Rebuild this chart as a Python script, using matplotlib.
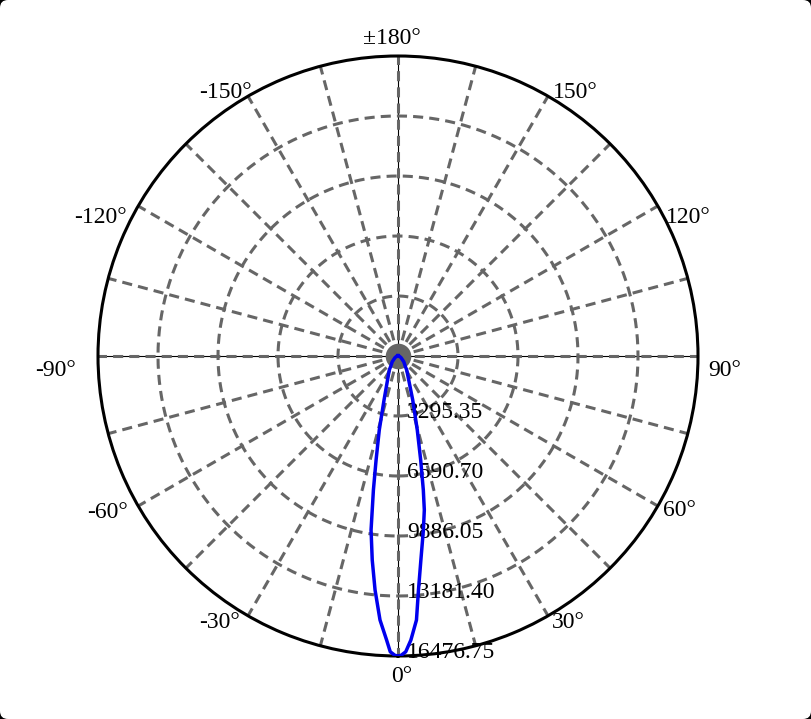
import numpy as np
import matplotlib
matplotlib.use("Agg")
import matplotlib.pyplot as plt
from matplotlib.patches import FancyBboxPatch
from matplotlib.transforms import IdentityTransform, offset_copy

plt.rcParams['font.family'] = ['Liberation Serif', 'DejaVu Serif']

# --------------------------
# Data
# --------------------------
angles_deg = [-180, -120, -90, -60, -45, -35, -31.9, -17.6, -14.2, -11.9, -10.4,
              -9.5, -8.8, -7.2, -5.6, -3.9, -2.3, -1.5, -0.6, 0.0, 0.6, 1.5, 2.6,
              4.0, 5.0, 6.4, 8.3, 9.7, 10.7, 12.3, 14.6, 18.5, 31.9, 35, 45, 60,
              90, 120, 180]
intensity = [20, 30, 60, 200, 450, 700, 906, 2536, 4191, 5838, 7484,
             8575, 9672, 11292, 12914, 14533, 15611, 16250, 16440, 16476.75, 16440, 16250, 15614,
             14537, 12900, 11275, 9656, 8580, 7490, 5846, 4201, 2548, 906, 700, 450, 200,
             60, 30, 20]

ring_values = [3295.35, 6590.70, 9886.05, 13181.40, 16476.75]
ring_labels = ["3295.35", "6590.70", "9886.05", "13181.40", "16476.75"]

angle_labels = ["0°", "30°", "60°", "90°", "120°", "150°", "±180°",
                "-150°", "-120°", "-90°", "-60°", "-30°"]
# label centres in pixels (x, y from top)
angle_label_px = [(402, 677), (568, 623), (679, 511), (725, 370), (688, 217), (575, 92),
                  (392, 38), (225, 92), (100, 217), (55, 370), (108, 512), (219, 623)]

W, H = 811, 719
rmax = ring_values[-1]
grid_col = '#666666'
fsize = 17

fig = plt.figure(figsize=(W / 100, H / 100), dpi=100)
fig.patch.set_facecolor('black')
fig.add_artist(FancyBboxPatch((0, 0), W, H, boxstyle='round,pad=0,rounding_size=8',
                              transform=IdentityTransform(), facecolor='white',
                              edgecolor='none', zorder=-10))

ax = fig.add_axes([98 / W, 63 / H, 600 / W, 600 / H], projection='polar')
ax.set_theta_zero_location('S')
ax.set_theta_direction(1)
ax.set_ylim(0, rmax)
ax.set_facecolor('none')
ax.grid(False)
ax.set_xticks([])
ax.set_yticks([])
ax.spines['polar'].set_linewidth(2.2)
ax.spines['polar'].set_color('black')

# thin black axis lines under the dashed ones
for a in [0, 90]:
    t = np.deg2rad(a)
    ax.plot([t, t, t + np.pi], [rmax, 0, rmax], color='black', lw=0.8, zorder=1)

# dashed spokes every 15 degrees
for a in range(0, 360, 15):
    t = np.deg2rad(a)
    ax.plot([t, t], [0, rmax], color=grid_col, lw=2.2, dashes=(3.3, 2.0), zorder=2)

# dashed rings
theta = np.linspace(0, 2 * np.pi, 721)
for r in ring_values[:-1]:
    ax.plot(theta, np.full_like(theta, r), color=grid_col, lw=2.2, dashes=(3.3, 2.0), zorder=2)

# grey disc at the centre
ax.scatter([0], [0], s=340, color=grid_col, zorder=3, linewidths=0)

# radial labels along 0 deg
trans = offset_copy(ax.transData, fig=fig, x=9, y=3, units='dots')
for r, lab in zip(ring_values, ring_labels):
    ax.text(0, r, lab, transform=trans, ha='left', va='center', fontsize=fsize, zorder=4)

# intensity curve
ax.plot(np.deg2rad(angles_deg), intensity, color='#0000ee', lw=2.5, zorder=5,
        solid_joinstyle='round')

for lab, (x, y) in zip(angle_labels, angle_label_px):
    fig.text(x / W, 1 - y / H, lab, ha='center', va='center', fontsize=fsize)

fig.savefig('out.png', dpi=100)
